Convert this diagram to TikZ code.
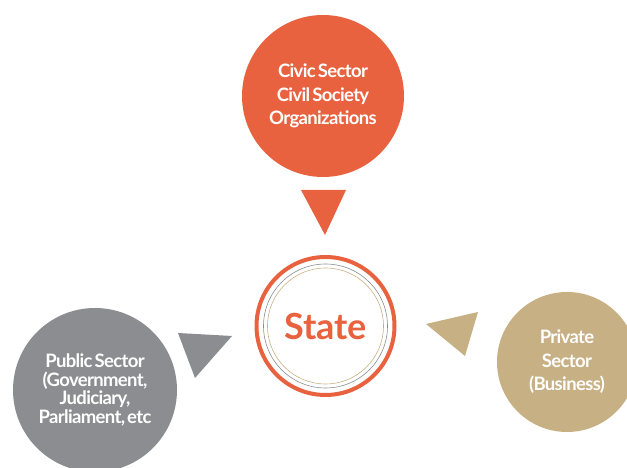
\documentclass[tikz,border=0pt]{standalone}
\usepackage{fontspec}
\setmainfont{Lato}
\newfontfamily\sectorfont[LetterSpace=-3.5, WordSpace=0.55]{Lato}
\usetikzlibrary{positioning}

\definecolor{civicorange}{HTML}{E8623F}
\definecolor{publicgray}{HTML}{8C8D91}
\definecolor{privatetan}{HTML}{C8B085}

\begin{document}
\begin{tikzpicture}[
  x=1pt, y=1pt,
  sector/.style={circle, inner sep=0pt, text=white, align=center, font=\sectorfont\bfseries\fontsize{18.5}{23.5}\selectfont}, % filled sector discs
  pointer/.style={draw=none} % triangles pointing at the state
]
\useasboundingbox (0,0) rectangle (627,468);
\clip (0,0) rectangle (627,468);

% Sector discs
\node[sector, fill=civicorange, minimum size=162pt] (civic) at (323,372) {Civic Sector\\Civil Society\\Organizations};
\node[sector, fill=publicgray, minimum size=164pt, font=\sectorfont\bfseries\fontsize{18.5}{18.5}\selectfont] (public) at (95,78) {Public Sector\\(Government,\\Judiciary,\\Parliament, etc};
\node[sector, fill=privatetan, minimum size=140pt] (private) at (567,106) {Private\\Sector\\(Business)};

% State in the middle
\node[circle, draw=civicorange, line width=4pt, minimum size=138pt, text=civicorange,
  font=\bfseries\fontsize{36}{40}\selectfont] (state) at (325.5,142) {State};
\draw[publicgray, line width=0.6pt] (state.center) circle (62pt);
\draw[privatetan, line width=0.6pt] (state.center) circle (58pt);

% Pointers
\fill[civicorange] (301,278) -- (346,278) -- (325,233) -- cycle;
\fill[publicgray] (178,135) -- (232,132) -- (195,90) -- cycle;
\fill[privatetan] (426,144) -- (478,156) -- (465,112) -- cycle;

\end{tikzpicture}
\end{document}
